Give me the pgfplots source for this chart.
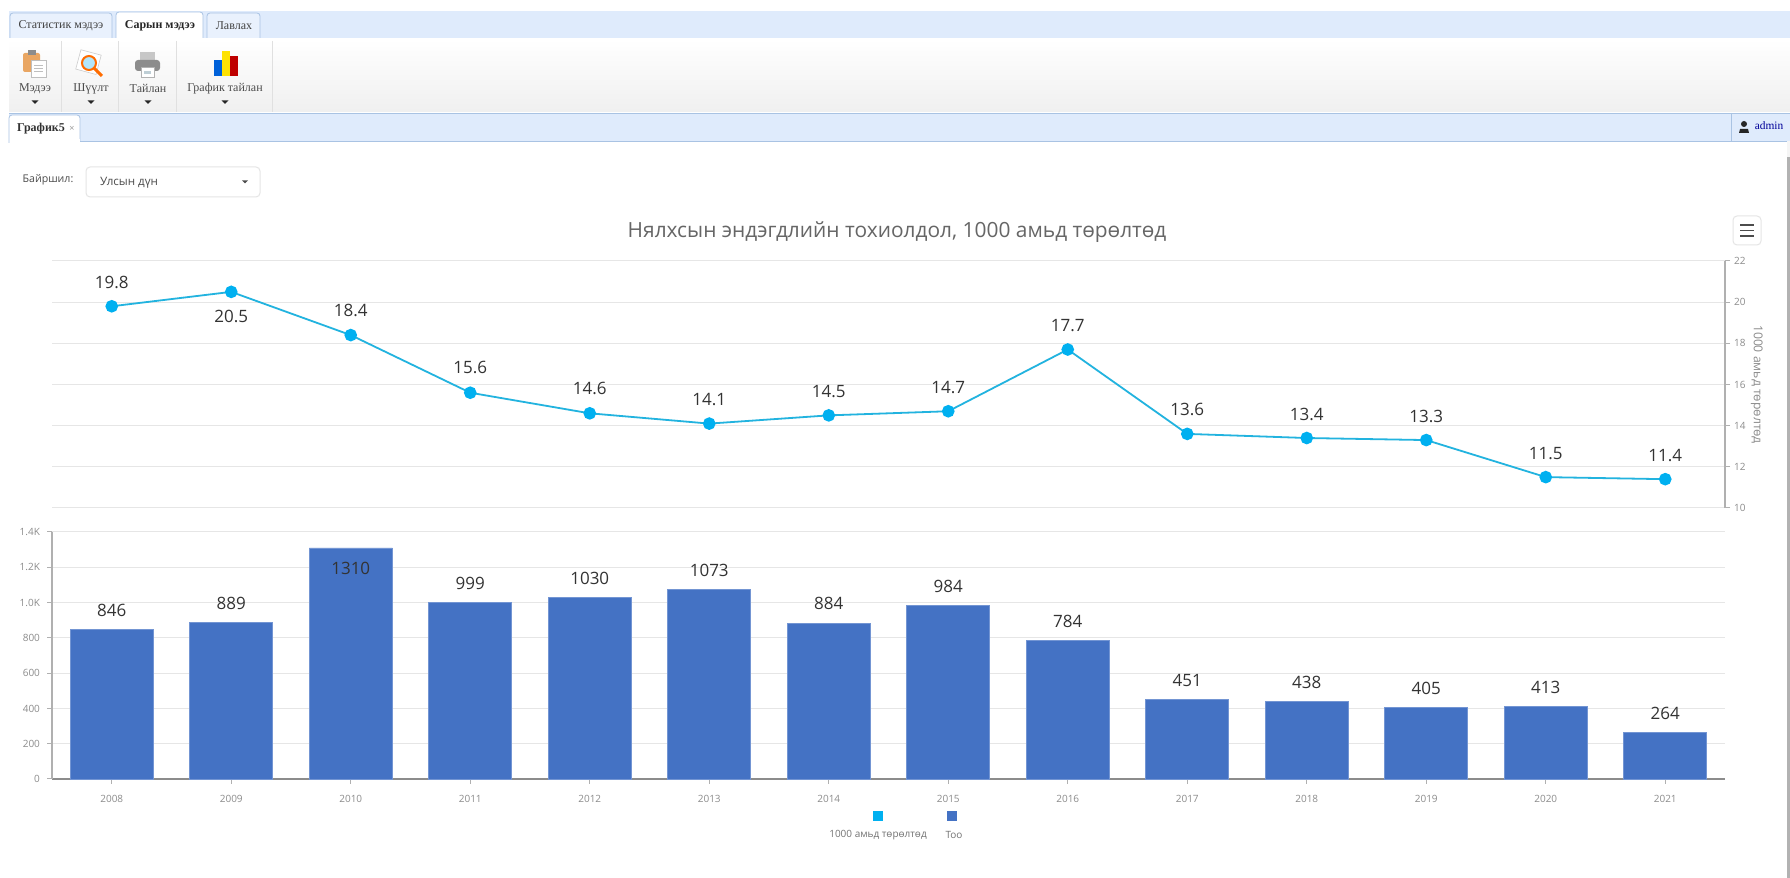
\documentclass[border=0pt]{standalone}
\usepackage{pgfplots}
\usepackage{pgfplotstable}
\pgfplotsset{compat=1.18}
\usepackage{fontspec}
\setmainfont{Open Sans}
\newfontfamily\serifui{Liberation Serif}
\definecolor{tabblue}{HTML}{DFEBFC}
\definecolor{tabedge}{HTML}{A9C3E3}
\definecolor{linecol}{HTML}{22B3DF}
\definecolor{markcol}{HTML}{00B0F0}
\definecolor{barcol}{HTML}{4472C4}
\definecolor{gridc}{HTML}{E6E6E6}
\definecolor{tickc}{HTML}{8C8C8C}
\definecolor{axisc}{HTML}{B0B0B0}
\definecolor{labc}{HTML}{333333}
\pgfplotstableread{
x v lab dy
0 19.8 19.8 12
1 20.5 20.5 -12.5
2 18.4 18.4 12.5
3 15.6 15.6 12.5
4 14.6 14.6 12.5
5 14.1 14.1 12
6 14.5 14.5 12
7 14.7 14.7 12
8 17.7 17.7 12
9 13.6 13.6 12
10 13.4 13.4 12
11 13.3 13.3 12
12 11.5 11.5 12
13 11.4 11.4 12
}\rateT
\pgfplotstableread{
x v lab dy
0 846 846 9.6
1 889 889 9.6
2 1310 1310 -10.5
3 999 999 9.6
4 1030 1030 9.6
5 1073 1073 9.6
6 884 884 9.6
7 984 984 9.6
8 784 784 9.6
9 451 451 9.6
10 438 438 9.6
11 405 405 9.6
12 413 413 9.6
13 264 264 9.6
}\countT
\pgfplotsset{base/.style={
  scale only axis, width=836.5pt, height=123.5pt,
  anchor=south west, xmin=-0.5, xmax=13.5,
  /pgf/number format/assume math mode=true,
  ticklabel style={font=\fontsize{5}{6}\selectfont, text=tickc},
  tick align=outside, major tick length=2.5pt,
  tick style={axisc, line width=.5pt},
  ymajorgrids, grid style={gridc, line width=.5pt},
  point meta=explicit symbolic,
  visualization depends on={\thisrow{dy} \as \dy},
  nodes near coords,
  nodes near coords style={font=\fontsize{8.5}{10}\selectfont, text=labc, anchor=center, yshift=\dy pt, inner sep=0pt},
}}
\begin{document}
\begin{tikzpicture}
\begin{scope}[x=0.5pt,y=-0.5pt,shift={(0,439pt)}]
\useasboundingbox (0,0) rectangle (1790,878);
\fill[white] (0,0) rectangle (1790,878);
% top tab band
\fill[tabblue] (9,11) rectangle (1790,38);
\draw[tabedge,line width=.4pt] (9,38) -- (1790,38);
\foreach \a/\b in {10/112,207/260}
  \draw[tabedge,line width=.4pt,fill=tabblue!70!white,rounded corners=1.5pt] (\a,38) -- (\a,13) -- (\b,13) -- (\b,38);
\draw[tabedge,line width=.4pt,fill=white,rounded corners=1.5pt] (116,38.5) -- (116,12) -- (203,12) -- (203,38.5);
\node[font=\serifui\fontsize{6}{7}\selectfont,text=black!75] at (61,26) {Статистик мэдээ};
\node[font=\serifui\bfseries\fontsize{6}{7}\selectfont,text=black!85] at (160,26) {Сарын мэдээ};
\node[font=\serifui\fontsize{6}{7}\selectfont,text=black!75] at (234,26) {Лавлах};
% ribbon
\shade[top color=white,bottom color=black!6] (9,39) rectangle (1790,112);
\foreach \a in {61,118,176,272} \draw[black!12,line width=.5pt] (\a,41) -- (\a,112);
\foreach \a/\t in {35/Мэдээ,91/Шүүлт,148/Тайлан,225/График тайлан}{
  \node[font=\serifui\fontsize{6}{7}\selectfont,text=black!70] at (\a,88.5) {\t};
  \fill[black!85] (\a-3.5,100.5) -- (\a+3.5,100.5) -- (\a,104) -- cycle;
}
% clipboard icon
\fill[brown!50!orange!70!white,rounded corners=1pt] (23,53) rectangle (40,72);
\fill[black!45] (28,50.5) rectangle (36,55);
\fill[white,draw=black!25,line width=.3pt] (31,60) rectangle (46,77);
\foreach \yy in {65,68,71} \draw[black!25,line width=.3pt] (34,\yy) -- (43,\yy);
% magnifier icon
\fill[white,draw=black!20,line width=.3pt,rotate around={-15:(88,62)}] (78,52) rectangle (99,72);
\draw[orange!85!red,line width=1.5pt] (94,68) -- (102,76);
\fill[cyan!30!white,draw=orange!85!red,line width=1pt] (89,63) circle (7);
% printer icon
\fill[black!22] (140,52) rectangle (155,60);
\fill[black!45,rounded corners=1.5pt] (135,60) rectangle (160,71);
\fill[white,draw=black!30,line width=.3pt] (141,67) rectangle (154,77);
\fill[cyan!40!black!30] (144,71) rectangle (151,74);
% bars icon
\fill[blue!55!cyan!85!black] (214,60) rectangle (222,76);
\fill[yellow!85!orange] (222,51) rectangle (230,76);
\fill[red!75!black] (230,56) rectangle (238,76);
% second strip
\fill[tabblue] (9,113) rectangle (1790,141);
\draw[tabedge,line width=.4pt] (9,113) -- (1790,113);
\draw[tabedge,line width=.4pt] (80,141) -- (1790,141);
\draw[tabedge,line width=.4pt,fill=white,rounded corners=1.5pt] (9,143) -- (9,115) -- (80,115) -- (80,141);
\fill[white] (9.5,139) rectangle (79.5,145);
\node[font=\serifui\bfseries\fontsize{6}{7}\selectfont,text=black!80] at (41,129) {График5};
\node[font=\fontsize{4.5}{5}\selectfont,text=black!40] at (72,129) {×};
\draw[tabedge,line width=.4pt] (1731,113) -- (1731,141);
\node[font=\serifui\fontsize{5.7}{7}\selectfont,text=blue!60!black] at (1769,126) {admin};
\fill[black!85] (1744,124) circle (3);
\fill[black!85] (1739,133) -- (1740,129) -- (1748,129) -- (1749,133) -- cycle;
% scrollbar edge
\fill[black!30] (1787,157) rectangle (1790,878);
\fill[black!4] (1787,141) rectangle (1790,157);
% dropdown
\node[font=\fontsize{5.3}{7}\selectfont,text=black!70] at (48,180) {Байршил:};
\draw[black!10,line width=.5pt,fill=white,rounded corners=2pt] (86,167) rectangle (260,197);
\node[font=\fontsize{5.8}{7}\selectfont,text=black!70,anchor=west] at (93,183) {Улсын дүн};
\fill[black!70] (242,180.5) -- (248,180.5) -- (245,183.5) -- cycle;
% title
\node[font=\fontsize{10.45}{14}\selectfont,text=black!60] at (897,232) {Нялхсын эндэгдлийн тохиолдол, 1000 амьд төрөлтөд};
% menu button
\draw[black!10,line width=.5pt,rounded corners=2pt,fill=white] (1733,216) rectangle (1761,245);
\foreach \yy in {225,230.5,236} \draw[black!70,line width=.9pt] (1740,\yy) -- (1754,\yy);
% legend
\fill[markcol] (873,811) rectangle (883,821);
\fill[barcol] (947,811) rectangle (957,821);
\node[font=\fontsize{5}{6}\selectfont,text=black!55] at (878,835) {1000 амьд төрөлтөд};
\node[font=\fontsize{5}{6}\selectfont,text=black!55] at (954,835) {Тоо};
\end{scope}

% upper panel
\begin{axis}[base, at={(26pt,185pt)},
  ymin=10, ymax=22, ytick={10,12,...,22},
  axis x line=none, axis y line*=right,
  axis line style={axisc, line width=.9pt},
  yticklabel style={xshift=-1.5pt},
  ylabel={1000 амьд төрөлтөд},
  ylabel style={font=\fontsize{6.1}{7}\selectfont, text=tickc, rotate=180, yshift=-4.2pt},
  clip=false]
\addplot[linecol, line width=.9pt, mark=*, mark size=2.7pt,
  mark options={fill=markcol, draw=markcol}]
  table[x=x,y=v,meta=lab] {\rateT};
\end{axis}

% lower panel
\begin{axis}[base, at={(26pt,49.5pt)},
  ymin=0, ymax=1400, ytick={0,200,...,1400},
  yticklabels={0,200,400,600,800,1.0K,1.2K,1.4K},
  xtick={0,...,13},
  xticklabels={2008,2009,2010,2011,2012,2013,2014,2015,2016,2017,2018,2019,2020,2021},
  xticklabel style={yshift=-2pt},
  axis x line*=bottom, axis y line*=left,
  x axis line style={tickc, line width=.6pt},
  y axis line style={axisc, line width=.7pt},
  clip=false]
\addplot[ybar, bar width=41.5pt, bar shift=0pt, fill=barcol, draw=barcol!75!white, line width=.3pt]
  table[x=x,y=v,meta=lab] {\countT};
\end{axis}
\end{tikzpicture}
\end{document}
